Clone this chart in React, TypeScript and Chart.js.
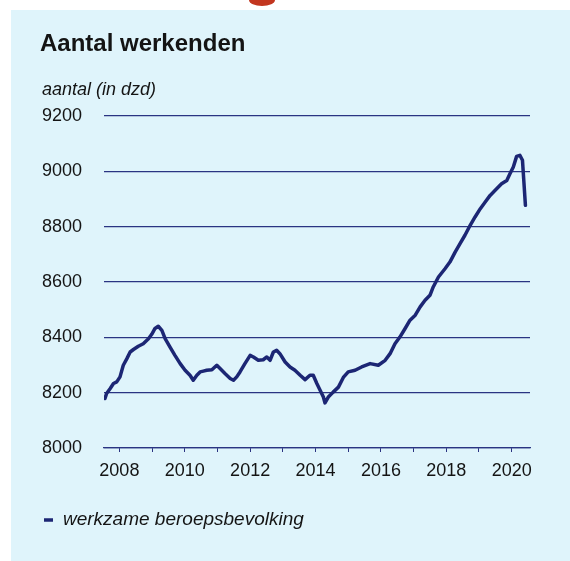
import React, { useEffect, useRef } from "react";
import { Chart, registerables } from "chart.js";

Chart.register(...registerables);

// ---- data ----
const chartTitle = "Aantal werkenden";
const yAxisTitle = "aantal (in dzd)";
const seriesLabel = "werkzame beroepsbevolking";

// time in decimal years
const years: number[] = [
  2007.56, 2007.61, 2007.72, 2007.82, 2007.92, 2008.02, 2008.12, 2008.23, 2008.33, 2008.43,
  2008.58, 2008.73, 2008.89, 2008.99, 2009.09, 2009.19, 2009.3, 2009.4, 2009.55, 2009.7,
  2009.86, 2010.01, 2010.16, 2010.26, 2010.37, 2010.47, 2010.57, 2010.67, 2010.83, 2010.98,
  2011.08, 2011.23, 2011.39, 2011.49, 2011.59, 2011.69, 2011.84, 2012.0, 2012.1, 2012.25,
  2012.4, 2012.51, 2012.61, 2012.71, 2012.81, 2012.91, 2013.07, 2013.22, 2013.37, 2013.53,
  2013.68, 2013.83, 2013.93, 2014.04, 2014.14, 2014.24, 2014.29, 2014.39, 2014.54, 2014.7,
  2014.85, 2015.0, 2015.21, 2015.41, 2015.67, 2015.92, 2016.13, 2016.28, 2016.43, 2016.58,
  2016.74, 2016.89, 2017.05, 2017.2, 2017.35, 2017.5, 2017.6, 2017.76, 2017.96, 2018.11,
  2018.27, 2018.42, 2018.57, 2018.73, 2018.88, 2019.04, 2019.19, 2019.34, 2019.54, 2019.69,
  2019.85, 2019.95, 2020.05, 2020.15, 2020.25, 2020.33, 2020.37, 2020.42,
];

// werkzame beroepsbevolking, x 1000
const employed: number[] = [
  8179, 8197, 8215, 8233, 8239, 8257, 8299, 8323, 8347, 8356,
  8368, 8377, 8395, 8411, 8432, 8440, 8425, 8395, 8365, 8335,
  8305, 8281, 8263, 8245, 8263, 8275, 8278, 8281, 8283, 8299,
  8287, 8269, 8251, 8245, 8257, 8275, 8305, 8335, 8329, 8317,
  8319, 8329, 8317, 8347, 8353, 8341, 8311, 8293, 8281, 8263,
  8247, 8263, 8263, 8233, 8209, 8184, 8163, 8184, 8202, 8220,
  8255, 8275, 8281, 8293, 8305, 8299, 8317, 8341, 8377, 8401,
  8432, 8462, 8480, 8510, 8534, 8552, 8582, 8618, 8648, 8672,
  8708, 8739, 8769, 8805, 8835, 8865, 8889, 8913, 8937, 8955,
  8967, 8992, 9016, 9054, 9058, 9040, 8967, 8877,
];

const yearTicks: number[] = [2008, 2009, 2010, 2011, 2012, 2013, 2014, 2015, 2016, 2017, 2018, 2019, 2020];
const labelledYears: number[] = [2008, 2010, 2012, 2014, 2016, 2018, 2020];
const yMin = 8000;
const yMax = 9200;
const yStep = 200;
const xMin = 2007.53;
const xMax = 2020.56;

// ---- styles ----
const FONT = "'Liberation Sans', Arial, Helvetica, sans-serif";
const NAVY = "#1c2674";
const GRID = "#2a3482";
const TEXT = "#141414";
const PANEL = "#dff4fb";

const decorPlugin = {
  id: "decor",
  beforeDraw(chart: any) {
    const ctx = chart.ctx;
    const w = chart.width;
    const h = chart.height;
    ctx.save();
    ctx.fillStyle = "#ffffff";
    ctx.fillRect(0, 0, w, h);
    ctx.fillStyle = PANEL;
    ctx.fillRect(11, 10, w - 11, h - 10);
    // red fragment of the heading above
    ctx.fillStyle = "#c2361f";
    ctx.beginPath();
    ctx.ellipse(262, 0, 13, 6, 0, 0, Math.PI * 2);
    ctx.fill();
    ctx.restore();
  },
  afterDraw(chart: any) {
    const ctx = chart.ctx;
    ctx.save();
    ctx.fillStyle = TEXT;
    ctx.textBaseline = "alphabetic";
    ctx.textAlign = "left";
    ctx.font = `bold 24px ${FONT}`;
    ctx.fillText(chartTitle, 40, 51);
    ctx.font = `italic 18px ${FONT}`;
    ctx.fillText(yAxisTitle, 42, 95);
    // legend
    ctx.strokeStyle = NAVY;
    ctx.lineWidth = 3.5;
    ctx.beginPath();
    ctx.moveTo(44, 520);
    ctx.lineTo(53, 520);
    ctx.stroke();
    ctx.font = `italic 19px ${FONT}`;
    ctx.textBaseline = "middle";
    ctx.fillText(seriesLabel, 63, 520);
    ctx.restore();
  },
};

export default function App() {
  const ref = useRef<HTMLCanvasElement | null>(null);
  useEffect(() => {
    if (!ref.current) return;
    const data = years.map((x, i) => ({ x, y: employed[i] }));
    const chart = new Chart(ref.current, {
      type: "line",
      data: {
        datasets: [
          {
            label: seriesLabel,
            data,
            borderColor: NAVY,
            borderWidth: 3.5,
            pointRadius: 0,
            tension: 0,
            borderJoinStyle: "round",
            borderCapStyle: "round",
            fill: false,
          },
        ],
      },
      options: {
        animation: false,
        responsive: false,
        maintainAspectRatio: false,
        layout: { padding: { left: 0, right: 40, top: 116, bottom: 73 } },
        plugins: {
          legend: { display: false },
          title: { display: false },
          tooltip: { enabled: false },
        },
        scales: {
          x: {
            type: "linear",
            min: xMin,
            max: xMax,
            afterBuildTicks: (scale: any) => {
              scale.ticks = yearTicks.map((v) => ({ value: v }));
            },
            afterFit: (scale: any) => {
              scale.height = 40;
            },
            ticks: {
              autoSkip: false,
              maxRotation: 0,
              padding: 8,
              color: TEXT,
              font: { family: FONT, size: 18 },
              callback: (v: any) => (labelledYears.includes(Number(v)) ? String(v) : ""),
            },
            grid: {
              drawOnChartArea: false,
              drawTicks: true,
              tickLength: 4,
              tickColor: GRID,
              lineWidth: 1,
            },
            border: { display: true, color: GRID, width: 1.2 },
          },
          y: {
            min: yMin,
            max: yMax,
            afterFit: (scale: any) => {
              scale.width = 104;
            },
            ticks: {
              stepSize: yStep,
              padding: 22,
              color: TEXT,
              font: { family: FONT, size: 18 },
              callback: (v: any) => String(v),
            },
            grid: {
              drawTicks: false,
              color: GRID,
              lineWidth: 1.2,
            },
            border: { display: false },
          },
        },
      },
      plugins: [decorPlugin],
    } as any);
    return () => chart.destroy();
  }, []);
  return (
    <div style={{ position: "absolute", left: 0, top: 0, width: 570, height: 561 }}>
      <canvas ref={ref} width={570} height={561} style={{ display: "block" }} />
    </div>
  );
}
